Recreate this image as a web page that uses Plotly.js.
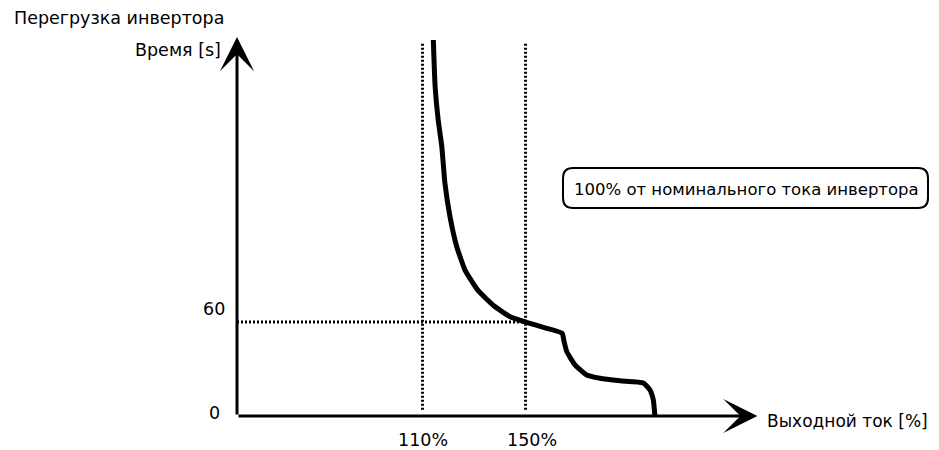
<!DOCTYPE html>
<html><head><meta charset="utf-8">
<script src="https://cdn.plot.ly/plotly-3.0.1.min.js"></script>
<style>html,body{margin:0;padding:0;background:#fff}</style>
</head><body><div id="chart" style="width:939px;height:450px"></div>
<script>
// ---- data ----
const curveCurrent = [114.2,114.9,116.1,117.5,118.7,120.7,123.3,126.5,131.4,137.8,144.0,150,158.2,164.2,164.9,166.0,169.2,173.7,178.9,186.7,195.7,198.3,199.6,200.2];
const curveTime    = [240.1,210.3,189.0,172.0,148.8,127.1,108.1,93.2,80.5,70.2,63.4,60,56.0,52.8,47.9,41.1,32.6,26.2,24.1,22.5,21.1,16.6,10.2,0];
const markCurrents = [110, 150];
const markCurrentLabels = ['110%', '150%'];
const markTime = 60;
const timeTicks = [0, 60];
const timeTickLabels = ['0', '60'];
const guideSpan = [4, 239];
const axisOrigin = [38, 0];
const axisMax = [240, 242];
const titleText = 'Перегрузка инвертора';
const yTitle = 'Время [s]';
const xTitle = 'Выходной ток [%]';
const noteText = '100% от номинального тока инвертора';

// ---- geometry helpers (decoration only) ----
const W = 939, H = 450, ML = 237, MR = 179, MT = 37, MB = 34;
const PW = W - ML - MR, PH = H - MT - MB;
const px2x = p => (p - ML) / PW;
const py2y = p => (H - MB - p) / PH;
const FONT = 'DejaVu Sans';

const traces = [];
traces.push({x: curveCurrent, y: curveTime, mode: 'lines', line: {color: '#000', width: 5, shape: 'spline', smoothing: 0.45}, hoverinfo: 'skip'});
markCurrents.forEach(c => traces.push({x: [c, c], y: guideSpan, mode: 'lines', line: {color: '#000', width: 3, dash: '2px,2px'}, hoverinfo: 'skip'}));
traces.push({x: [axisOrigin[0], markCurrents[1]], y: [markTime, markTime], mode: 'lines', line: {color: '#000', width: 3, dash: '2px,2px'}, hoverinfo: 'skip'});

const ann = [];
// axes arrows
ann.push({x: axisOrigin[0], y: axisMax[1], ax: axisOrigin[0], ay: axisOrigin[1], xref: 'x', yref: 'y', axref: 'x', ayref: 'y', text: '', showarrow: true, arrowhead: 3, arrowsize: 1.9, arrowwidth: 3, arrowcolor: '#000', standoff: 0});
ann.push({x: axisMax[0], y: axisOrigin[1], ax: axisOrigin[0], ay: axisOrigin[1], xref: 'x', yref: 'y', axref: 'x', ayref: 'y', text: '', showarrow: true, arrowhead: 3, arrowsize: 1.9, arrowwidth: 3, arrowcolor: '#000', standoff: 0});
// titles
ann.push({x: px2x(12), y: py2y(18), xref: 'paper', yref: 'paper', xanchor: 'left', yanchor: 'middle', text: titleText, showarrow: false, font: {family: FONT, size: 17.5, color: '#000'}});
ann.push({x: px2x(223), y: py2y(50), xref: 'paper', yref: 'paper', xanchor: 'right', yanchor: 'middle', text: yTitle, showarrow: false, font: {family: FONT, size: 17.5, color: '#000'}});
ann.push({x: px2x(765), y: py2y(421), xref: 'paper', yref: 'paper', xanchor: 'left', yanchor: 'middle', text: xTitle, showarrow: false, font: {family: FONT, size: 17, color: '#000'}});
// tick labels
const yShift = [3, 13];
timeTicks.forEach((t, i) => ann.push({x: px2x(214), y: t, xref: 'paper', yref: 'y', xanchor: 'center', yanchor: 'middle', yshift: yShift[i], text: timeTickLabels[i], showarrow: false, font: {family: FONT, size: 17.5, color: '#000'}}));
const xShift = [0, 6];
markCurrents.forEach((c, i) => ann.push({x: c, y: py2y(440), xref: 'x', yref: 'paper', xanchor: 'center', yanchor: 'middle', xshift: xShift[i], text: markCurrentLabels[i], showarrow: false, font: {family: FONT, size: 17.5, color: '#000'}}));
// note
ann.push({x: px2x(746), y: py2y(189), xref: 'paper', yref: 'paper', xanchor: 'center', yanchor: 'middle', text: noteText, showarrow: false, font: {family: FONT, size: 16.5, color: '#000'}});

// rounded box
function roundRect(x0p, y0p, x1p, y1p, r) {
  const X = px2x, Y = py2y;
  return `M${X(x0p + r)},${Y(y0p)} L${X(x1p - r)},${Y(y0p)} Q${X(x1p)},${Y(y0p)} ${X(x1p)},${Y(y0p + r)} ` +
         `L${X(x1p)},${Y(y1p - r)} Q${X(x1p)},${Y(y1p)} ${X(x1p - r)},${Y(y1p)} ` +
         `L${X(x0p + r)},${Y(y1p)} Q${X(x0p)},${Y(y1p)} ${X(x0p)},${Y(y1p - r)} ` +
         `L${X(x0p)},${Y(y0p + r)} Q${X(x0p)},${Y(y0p)} ${X(x0p + r)},${Y(y0p)} Z`;
}
const shapes = [{type: 'path', xref: 'paper', yref: 'paper', path: roundRect(563, 168, 928, 208, 10), line: {color: '#000', width: 2}}];

const layout = {
  width: W, height: H,
  margin: {l: ML, r: MR, t: MT, b: MB, pad: 0},
  paper_bgcolor: '#fff', plot_bgcolor: '#fff',
  showlegend: false,
  xaxis: {range: [axisOrigin[0], 241], showgrid: false, zeroline: false, showticklabels: false, showline: false, ticks: '', fixedrange: true},
  yaxis: {range: [axisOrigin[1], axisMax[1]], showgrid: false, zeroline: false, showticklabels: false, showline: false, ticks: '', fixedrange: true},
  annotations: ann,
  shapes: shapes,
  font: {family: FONT, color: '#000'}
};
Plotly.newPlot('chart', traces, layout, {staticPlot: true, displayModeBar: false});
</script>
</body></html>
